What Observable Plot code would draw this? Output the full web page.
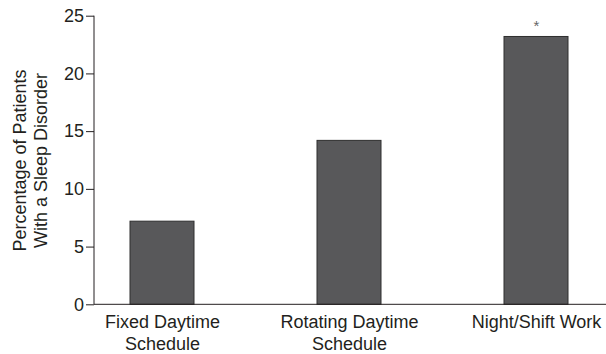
<!DOCTYPE html>
<html><head><meta charset="utf-8">
<script src="https://cdn.jsdelivr.net/npm/d3@7"></script>
<script src="https://cdn.jsdelivr.net/npm/@observablehq/plot@0.6"></script>
<style>body{margin:0;background:#fff} svg{display:block}</style>
</head><body><div id="chart"></div>
<script>
const categories = ["Fixed Daytime Schedule", "Rotating Daytime Schedule", "Night/Shift Work"];
const tickLabels = ["Fixed Daytime\nSchedule", "Rotating Daytime\nSchedule", "Night/Shift Work"];
const percentages = [7.2, 14.2, 23.2];
const significance = ["", "", "*"];
const yTicks = [0, 5, 10, 15, 20, 25];
const yLabel = "Percentage of Patients\nWith a Sleep Disorder";

const data = categories.map((c, i) => ({category: c, value: percentages[i], mark: significance[i]}));
const labelOf = new Map(categories.map((c, i) => [c, tickLabels[i]]));
const ink = "#231f20";

const axisLines = (index, scales, values, dims) => {
  const g = d3.create("svg:g").attr("stroke", ink).attr("stroke-width", 1);
  const y0 = scales.y(0);
  g.append("line").attr("x1", dims.marginLeft).attr("x2", dims.width).attr("y1", y0).attr("y2", y0);
  g.append("line").attr("x1", dims.marginLeft).attr("x2", dims.marginLeft)
    .attr("y1", y0).attr("y2", scales.y(d3.max(yTicks)));
  return g.node();
};

const chart = Plot.plot({
  width: 606,
  height: 354,
  marginLeft: 94,
  marginRight: 2,
  marginTop: 15.7,
  marginBottom: 49.7,
  style: {fontFamily: "'Liberation Sans', Arial, sans-serif", fontSize: "18px", color: ink, background: "#fff"},
  x: {domain: categories, paddingInner: 0.657, paddingOuter: 0.185},
  y: {domain: [0, 25]},
  marks: [
    Plot.barY(data, {x: "category", y: "value", fill: "#58585a", stroke: "#2e2e2e", strokeWidth: 1}),
    Plot.text(data, {x: "category", y: "value", text: "mark", dy: -11, fontSize: 15, fill: "#666"}),
    Plot.axisY({ticks: yTicks, tickSize: 8, tickPadding: 2.5, label: null, color: ink}),
    Plot.axisX({tickSize: 0, tickPadding: 8, tickFormat: c => labelOf.get(c), lineHeight: 1.2, label: null, color: ink}),
    Plot.text([yLabel], {text: d => d, frameAnchor: "left", textAnchor: "middle", rotate: -90, dx: -65, fontSize: 18, lineHeight: 1.2, fill: ink}),
    axisLines
  ]
});
document.getElementById("chart").appendChild(chart);
</script>
</body></html>
